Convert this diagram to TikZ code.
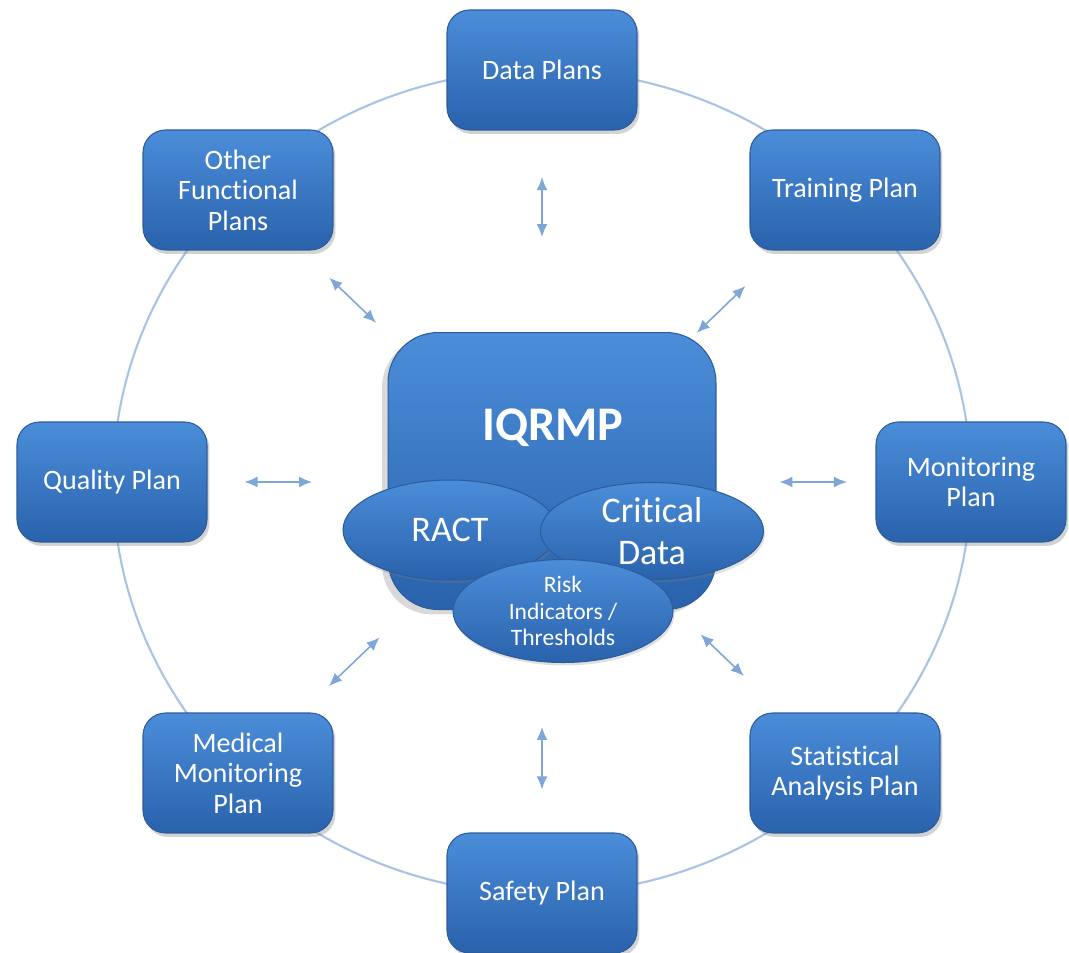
\documentclass[tikz,border=0pt]{standalone}
\usepackage{fontspec}
\setmainfont{Carlito}[Ligatures=NoCommon]
\usetikzlibrary{calc, shadows, arrows.meta, shapes.geometric}

\definecolor{boxtop}{HTML}{4B8DD9}
\definecolor{boxbot}{HTML}{2A62AC}
\definecolor{boxedge}{HTML}{2B5C9C}
\definecolor{ring}{HTML}{A9C3E4}
\definecolor{linkblue}{HTML}{7EA7D8}

\tikzset{
    plan/.style={rectangle, rounded corners=0.45cm, minimum width=3.8cm, minimum height=2.4cm,
        top color=boxtop, bottom color=boxbot, draw=boxedge, line width=0.6pt,
        drop shadow={opacity=0.35, shadow xshift=0.05cm, shadow yshift=-0.08cm},
        text=white, align=center, font=\fontsize{16}{17.3}\selectfont},
    core/.style={rectangle, rounded corners=1cm, minimum width=6.56cm, minimum height=5.54cm,
        top color=boxtop, bottom color=boxbot, draw=boxedge, line width=0.6pt,
        drop shadow={opacity=0.3, shadow xshift=-0.12cm, shadow yshift=-0.1cm}},
    blob/.style={ellipse, inner sep=0pt, top color=boxtop, bottom color=boxbot,
        draw=boxedge, line width=0.6pt, text=white, align=center,
        drop shadow={opacity=0.25, shadow xshift=0.03cm, shadow yshift=-0.06cm}},
    link/.style={linkblue, line width=0.9pt, {Latex[length=2.6mm,width=2.2mm]}-{Latex[length=2.6mm,width=2.2mm]}}
}

\begin{document}
\begin{tikzpicture}[x=0.02cm, y=-0.02cm]
    \useasboundingbox (0,0) rectangle (1069,953);

    \coordinate (hub) at (542,482);

    % ring behind the plans
    \draw[ring, line width=1.2pt] (hub) ellipse [x radius=8.58cm, y radius=8.24cm];

    % the surrounding plans
    \node[plan] (data)    at (542,70)  {Data Plans};
    \node[plan] (train)   at (845,190) {Training Plan};
    \node[plan] (monit)   at (971,482) {Monitoring\\Plan};
    \node[plan] (stats)   at (845,773) {Statistical\\Analysis Plan};
    \node[plan] (safety)  at (542,893) {Safety Plan};
    \node[plan] (medic)   at (238,773) {Medical\\Monitoring\\Plan};
    \node[plan] (quality) at (112,482) {Quality Plan};
    \node[plan] (other)   at (238,190) {Other\\Functional\\Plans};

    % two-way links between the core and each plan
    \foreach \p/\a/\b in {data/4.9/6.1, train/4.3/5.65, monit/4.75/6.1, stats/4.4/5.6,
                          safety/4.9/6.15, medic/4.5/5.9, quality/4.6/5.95, other/4.6/5.9}
        \draw[link] ($(hub)!\a cm!(\p)$) -- ($(hub)!\b cm!(\p)$);

    % the core and its parts
    \node[core] (iqrmp) at (552,471) {};
    \node[text=white, font=\bfseries\fontsize{27.5}{30}\selectfont] at (553,428) {IQRMP};

    \node[blob, minimum width=4.28cm, minimum height=2cm, font=\fontsize{20.5}{23.8}\selectfont]
        (ract) at (450,530) {RACT};
    \node[blob, minimum width=4.46cm, minimum height=1.94cm, font=\fontsize{20.5}{23.8}\selectfont]
        (crit) at (652,531) {Critical\\Data};
    \node[blob, minimum width=4.4cm, minimum height=2.06cm, font=\fontsize{13.4}{15.3}\selectfont]
        (risk) at (563,611) {Risk\\Indicators /\\Thresholds};

\end{tikzpicture}
\end{document}
